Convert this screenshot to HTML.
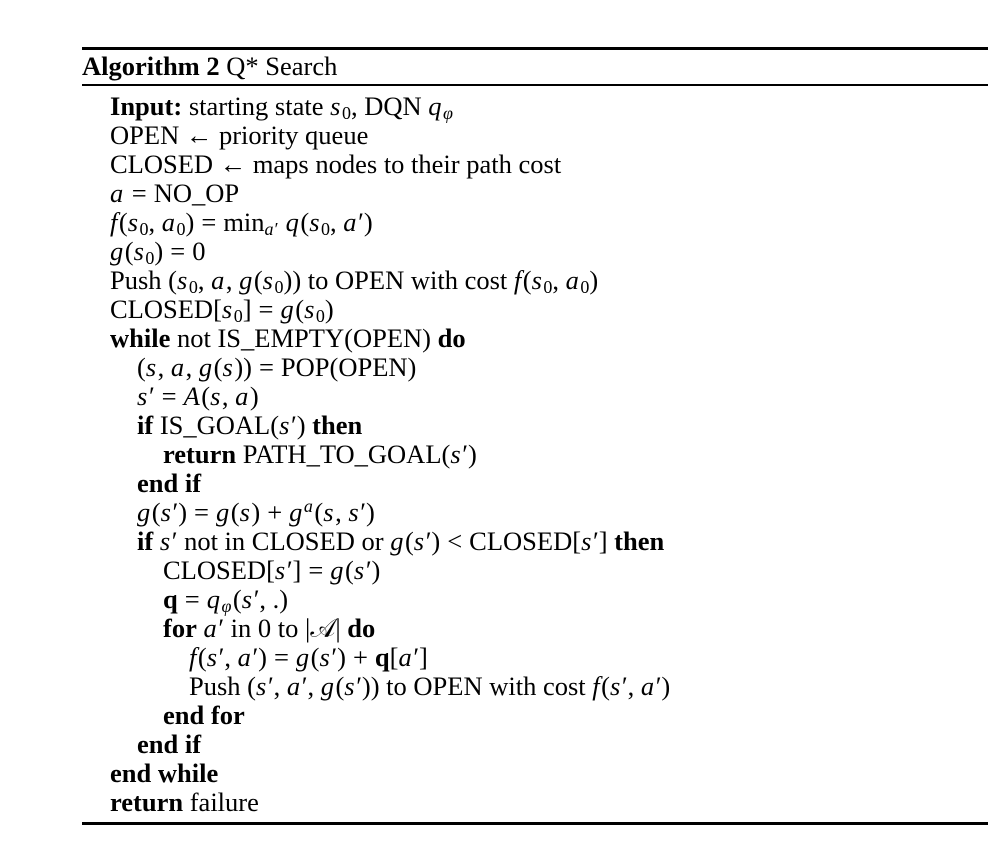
<!DOCTYPE html>
<html><head><meta charset="utf-8"><style>
body{margin:0;width:988px;height:856px;background:#fff;position:relative;overflow:hidden;font-family:"Liberation Serif",serif;font-size:26.5px;color:#000}
.r{position:absolute;left:82px;right:0;background:#000}
.l{position:absolute;white-space:nowrap;line-height:29px;height:29px}
i{font-style:italic;padding-right:1.5px}
b{font-weight:bold}
sub{font-size:18px;vertical-align:-4px;line-height:0}
sup{font-size:18px;vertical-align:9px;line-height:0}
.o{padding:0 7px}
</style></head><body>
<div class="r" style="top:47px;height:3px"></div>
<div class="l" style="left:82px;top:52px"><b>Algorithm 2</b> Q* Search</div>
<div class="r" style="top:84px;height:2px"></div>
<div class="l" style="left:110px;top:92px"><b>Input:</b> starting state <i>s</i><sub>0</sub>, DQN <i>q</i><sub><i>φ</i></sub></div>
<div class="l" style="left:110px;top:121px">OPEN ← priority queue</div>
<div class="l" style="left:110px;top:150px">CLOSED ← maps nodes to their path cost</div>
<div class="l" style="left:110px;top:179px"><i>a</i><span class="o">=</span>NO_OP</div>
<div class="l" style="left:110px;top:208px"><i>f</i>(<i>s</i><sub>0</sub>, <i>a</i><sub>0</sub>)<span class="o">=</span>min<sub><i>a′</i></sub> <i>q</i>(<i>s</i><sub>0</sub>, <i>a′</i>)</div>
<div class="l" style="left:110px;top:237px"><i>g</i>(<i>s</i><sub>0</sub>)<span class="o">=</span>0</div>
<div class="l" style="left:110px;top:266px">Push (<i>s</i><sub>0</sub>, <i>a</i>, <i>g</i>(<i>s</i><sub>0</sub>)) to OPEN with cost <i>f</i>(<i>s</i><sub>0</sub>, <i>a</i><sub>0</sub>)</div>
<div class="l" style="left:110px;top:295px">CLOSED[<i>s</i><sub>0</sub>]<span class="o">=</span><i>g</i>(<i>s</i><sub>0</sub>)</div>
<div class="l" style="left:110px;top:324px"><b>while</b> not IS_EMPTY(OPEN) <b>do</b></div>
<div class="l" style="left:137px;top:353px">(<i>s</i>, <i>a</i>, <i>g</i>(<i>s</i>))<span class="o">=</span>POP(OPEN)</div>
<div class="l" style="left:137px;top:382px"><i>s′</i><span class="o">=</span><i>A</i>(<i>s</i>, <i>a</i>)</div>
<div class="l" style="left:137px;top:411px"><b>if</b> IS_GOAL(<i>s′</i>) <b>then</b></div>
<div class="l" style="left:163px;top:440px"><b>return</b> PATH_TO_GOAL(<i>s′</i>)</div>
<div class="l" style="left:137px;top:469px"><b>end if</b></div>
<div class="l" style="left:137px;top:498px"><i>g</i>(<i>s′</i>)<span class="o">=</span><i>g</i>(<i>s</i>)<span class="o">+</span><i>g</i><sup><i>a</i></sup>(<i>s</i>, <i>s′</i>)</div>
<div class="l" style="left:137px;top:527px"><b>if</b> <i>s′</i> not in CLOSED or <i>g</i>(<i>s′</i>)<span class="o">&lt;</span>CLOSED[<i>s′</i>] <b>then</b></div>
<div class="l" style="left:163px;top:556px">CLOSED[<i>s′</i>]<span class="o">=</span><i>g</i>(<i>s′</i>)</div>
<div class="l" style="left:163px;top:585px"><b>q</b><span class="o">=</span><i>q</i><sub><i>φ</i></sub>(<i>s′</i>, .)</div>
<div class="l" style="left:163px;top:614px"><b>for</b> <i>a′</i> in 0 to |𝒜| <b>do</b></div>
<div class="l" style="left:189px;top:643px"><i>f</i>(<i>s′</i>, <i>a′</i>)<span class="o">=</span><i>g</i>(<i>s′</i>)<span class="o">+</span><b>q</b>[<i>a′</i>]</div>
<div class="l" style="left:189px;top:672px">Push (<i>s′</i>, <i>a′</i>, <i>g</i>(<i>s′</i>)) to OPEN with cost <i>f</i>(<i>s′</i>, <i>a′</i>)</div>
<div class="l" style="left:163px;top:701px"><b>end for</b></div>
<div class="l" style="left:137px;top:730px"><b>end if</b></div>
<div class="l" style="left:110px;top:759px"><b>end while</b></div>
<div class="l" style="left:110px;top:788px"><b>return</b> failure</div>
<div class="r" style="top:822px;height:3px"></div>
</body></html>
